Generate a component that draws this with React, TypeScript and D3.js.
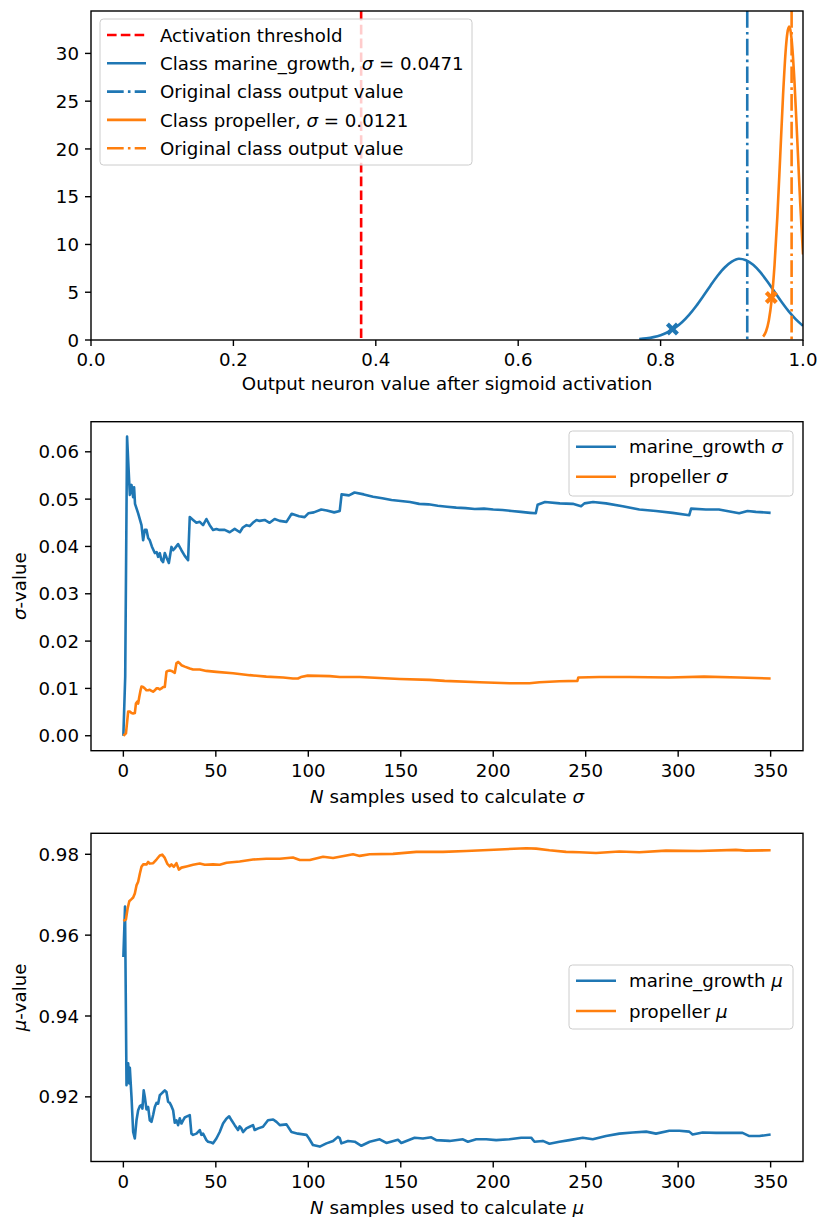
import React from 'react';
import * as d3 from 'd3';

const FONT = '"DejaVu Sans", sans-serif';
const FS = 18.2;
const BLUE = '#1f77b4';
const ORANGE = '#ff7f0e';
const RED = '#ff0000';

// ---------------- Top panel data ----------------
const thresholdValue = 0.3794;
const marineOriginal = 0.9217;
const propellerOriginal = 0.984;
const marineSigmaLabel = '0.0471';
const propellerSigmaLabel = '0.0121';
const marineDensityX = [0.77, 0.78, 0.79, 0.8, 0.81, 0.82, 0.83, 0.84, 0.85, 0.86, 0.87, 0.88, 0.89, 0.9, 0.91, 0.92, 0.93, 0.94, 0.95, 0.96, 0.97, 0.98, 0.99, 1.0];
const marineDensityY = [0.09, 0.17, 0.3, 0.5, 0.81, 1.26, 1.86, 2.63, 3.56, 4.61, 5.69, 6.72, 7.59, 8.2, 8.5, 8.35, 7.87, 7.1, 6.12, 5.04, 3.97, 2.99, 2.15, 1.48];
const propDensityX = [0.944, 0.948, 0.952, 0.956, 0.96, 0.964, 0.968, 0.972, 0.976, 0.978, 0.9805, 0.982, 0.984, 0.988, 0.992, 0.996, 1.0];
const propDensityY = [0.35, 0.89, 2.05, 4.22, 7.81, 12.94, 19.24, 25.63, 30.62, 32.11, 32.8, 32.56, 31.46, 27.07, 20.89, 14.44, 8.95];
const marineMarker = [0.8166, 1.15];
const propMarker = [0.9555, 4.45];
const topXTicks = [0, 0.2, 0.4, 0.6, 0.8, 1.0];
const topYTicks = [0, 5, 10, 15, 20, 25, 30];

// ---------------- Sigma panel data ----------------
const sigmaMarine: [number, number][] = [[0,0],[1,0.0125],[2,0.0632],[2.6,0.0582],[3.5,0.0509],[4.4,0.053],[5.3,0.0504],[5.8,0.0525],[6.3,0.049],[8,0.047],[9.8,0.0445],[10.7,0.0413],[11.6,0.0435],[12.5,0.0435],[13.4,0.0418],[14.3,0.0413],[15.4,0.04],[17,0.0386],[18,0.0388],[18.8,0.0378],[19.7,0.0386],[20.6,0.0371],[21.5,0.0367],[22.4,0.0386],[23.5,0.0375],[24.6,0.0365],[26,0.0399],[26.9,0.0392],[27.8,0.0396],[29.6,0.0405],[31.4,0.0392],[33.2,0.038],[35,0.0371],[35.9,0.0462],[37.7,0.0456],[39.5,0.045],[41.3,0.0452],[43.1,0.0445],[44.9,0.0458],[46.7,0.0445],[48.5,0.0435],[50.3,0.0437],[52,0.0435],[54.8,0.0435],[57.5,0.043],[60.2,0.0437],[63,0.043],[64.6,0.044],[66.6,0.0445],[68.3,0.0443],[70,0.045],[72,0.0456],[73.7,0.0454],[76.4,0.0456],[79.1,0.045],[81.8,0.0458],[84.5,0.0454],[88.2,0.0452],[91,0.0469],[95,0.0464],[98,0.0462],[100,0.047],[103,0.0472],[107,0.0478],[110,0.0476],[114,0.0472],[117,0.0475],[118,0.051],[122,0.0508],[125,0.0514],[130,0.051],[135,0.0505],[140,0.0502],[145,0.0498],[150,0.0496],[155,0.0494],[160,0.049],[165,0.0489],[170,0.0486],[175,0.0484],[180,0.0482],[185,0.0481],[190,0.0479],[195,0.048],[200,0.0478],[205,0.0477],[210,0.0475],[215,0.0473],[220,0.0471],[223,0.047],[224,0.0488],[228,0.0494],[236,0.0491],[243,0.049],[247.5,0.0485],[249.3,0.0491],[254,0.0494],[261,0.0491],[270,0.0485],[279,0.0478],[288,0.0475],[297,0.0471],[306,0.0466],[307,0.048],[315,0.0478],[322,0.0478],[333,0.047],[337.5,0.0475],[342,0.0473],[350,0.0471]];
const sigmaPropeller: [number, number][] = [[0,0],[1.4,0.0005],[2.6,0.0051],[3.5,0.0051],[4.4,0.0048],[5.3,0.0047],[6.2,0.0048],[6.8,0.0068],[7.5,0.0072],[8,0.0068],[8.6,0.0082],[9.3,0.0096],[9.8,0.0104],[10.7,0.0103],[11.6,0.01],[12.5,0.0096],[13.4,0.0096],[14.3,0.0097],[15.2,0.0095],[16.1,0.0093],[17,0.0096],[17.9,0.01],[18.8,0.01],[19.7,0.0098],[20.6,0.01],[21.5,0.0103],[22.4,0.0103],[23.3,0.0135],[23.9,0.0137],[25.1,0.0138],[26,0.0137],[26.9,0.0135],[27.8,0.0133],[28.7,0.0153],[29.6,0.0156],[30.5,0.0153],[31.4,0.0149],[33.2,0.0146],[35.9,0.0142],[37.7,0.014],[41.3,0.014],[44.9,0.0137],[50.3,0.0135],[59.3,0.0132],[68.3,0.0128],[77.3,0.0125],[86.4,0.0123],[91.7,0.0121],[94.4,0.0121],[96,0.0124],[99.7,0.0127],[111.6,0.0126],[117,0.0124],[127.8,0.0124],[138.6,0.0122],[149.4,0.012],[165.6,0.0118],[173.7,0.0116],[192.6,0.0113],[208.8,0.0111],[219.6,0.0111],[225,0.0113],[235.8,0.0115],[245.5,0.0116],[246,0.0123],[257.4,0.0124],[273.6,0.0124],[295.2,0.0123],[314,0.0125],[332.9,0.0123],[350,0.0121]];
const sigmaYTicks = [0, 0.01, 0.02, 0.03, 0.04, 0.05, 0.06];

// ---------------- Mu panel data ----------------
const muMarine: [number, number][] = [[0,0.9546],[0.9,0.9671],[1.7,0.9229],[2.6,0.9283],[3.2,0.9233],[3.5,0.9272],[4.4,0.92],[5.3,0.9113],[6.2,0.9097],[7.1,0.9142],[8,0.9167],[8.9,0.9177],[9.8,0.918],[10.3,0.9171],[11,0.9216],[11.6,0.92],[12.5,0.9169],[13.4,0.9175],[14.3,0.9142],[15.2,0.9138],[16.1,0.9155],[17,0.9175],[17.9,0.9185],[18.8,0.9183],[19.7,0.9204],[20.6,0.9208],[21.5,0.9212],[22.4,0.9216],[23.3,0.9212],[24.2,0.9188],[25.1,0.9185],[26,0.9177],[26.9,0.9167],[27.8,0.9136],[28.7,0.9142],[29.6,0.913],[30.5,0.9147],[31.4,0.9134],[32.3,0.9142],[33.2,0.9149],[34.1,0.9151],[35.9,0.9155],[36.8,0.9109],[37.7,0.9106],[39.5,0.9109],[41.3,0.9118],[42.2,0.9106],[43.1,0.9109],[44.9,0.9093],[45.8,0.9089],[47.6,0.9087],[48.5,0.9085],[50.3,0.9097],[52.1,0.9113],[53.9,0.9134],[55.7,0.9146],[57.2,0.9152],[58.5,0.9142],[60.2,0.913],[62,0.9118],[62.9,0.9127],[63.8,0.9122],[64.7,0.9113],[66.5,0.9122],[68.3,0.9126],[70.1,0.913],[71,0.9118],[72.9,0.9122],[75.5,0.9126],[78.2,0.9142],[81,0.9144],[82.8,0.9138],[84.6,0.913],[88.2,0.9132],[90.9,0.9113],[94.4,0.9109],[99,0.9106],[100.4,0.9097],[102.5,0.9081],[106.2,0.9077],[109.8,0.9085],[113.4,0.9091],[116,0.9101],[117,0.9098],[117.9,0.9085],[121.5,0.9091],[125.1,0.9089],[128.7,0.9079],[133.2,0.9089],[138.6,0.9095],[142.2,0.9086],[148.5,0.9094],[150.3,0.9086],[157.5,0.9099],[162,0.9097],[166.5,0.91],[169.2,0.9093],[176.4,0.9091],[183.6,0.9095],[186.3,0.9089],[190.8,0.9095],[196.2,0.9095],[201.6,0.9093],[208.8,0.9095],[215.1,0.9099],[220.5,0.9099],[222.3,0.9089],[226.8,0.9091],[230.4,0.9084],[235.8,0.9089],[241.2,0.9093],[248.4,0.9099],[253.8,0.9095],[261,0.9103],[268.2,0.9109],[275.4,0.9112],[282.7,0.9114],[288,0.9109],[295.2,0.9116],[300.6,0.9116],[306,0.9114],[307.8,0.9107],[313.2,0.9112],[320.5,0.9111],[325.9,0.9111],[334.8,0.9111],[338.5,0.9103],[343.9,0.9103],[350,0.9107]];
const muPropeller: [number, number][] = [[0,0.9635],[1.4,0.9639],[2.3,0.9666],[3.2,0.9684],[4.4,0.9689],[5.3,0.9693],[6.2,0.9703],[7.1,0.9723],[8,0.9732],[8.9,0.9752],[9.8,0.9769],[10.7,0.9775],[12.5,0.9775],[13.4,0.9781],[14.3,0.9777],[16.1,0.9778],[17.9,0.9787],[19.7,0.9797],[21,0.9799],[22.4,0.9791],[23.7,0.9777],[25.1,0.977],[26,0.9775],[27.3,0.9769],[28.7,0.9778],[30,0.9762],[31.4,0.9767],[34.1,0.977],[37.7,0.9774],[41.3,0.9777],[44,0.9774],[48.5,0.9775],[52.1,0.9774],[55.8,0.9779],[62.9,0.9782],[70.1,0.9787],[77.3,0.9789],[84.6,0.9789],[91.7,0.9792],[95.4,0.9786],[100.8,0.9786],[108,0.9794],[113.4,0.9791],[124.2,0.98],[127.8,0.9796],[133.2,0.98],[145.8,0.9801],[158.4,0.9806],[172.8,0.9806],[185.4,0.9808],[203.4,0.9812],[217.8,0.9815],[223.2,0.9814],[230.4,0.981],[239.4,0.9806],[246.6,0.9805],[255.6,0.9803],[268.2,0.9807],[279,0.9805],[293.4,0.9809],[311.4,0.9808],[331.2,0.9811],[336.6,0.9809],[350,0.981]];
const muYTicks = [0.92, 0.94, 0.96, 0.98];
const nTicks = [0, 50, 100, 150, 200, 250, 300, 350];

// ---------------- layout ----------------
const LEFT = 91;
const RIGHT = 803;
const TOP_BOX = { top: 11, bottom: 340 };
const MID_BOX = { top: 421.7, bottom: 750.7 };
const BOT_BOX = { top: 833.3, bottom: 1161.5 };
const LW = 2.6;
const FRAME_W = 1.4;

function padDomain(lo: number, hi: number): [number, number] {
  const p = (hi - lo) * 0.05;
  return [lo - p, hi + p];
}

function AxesFrame({ box, xScale, yScale, xTicks, yTicks, xFmt, yFmt }: any) {
  return (
    <g>
      <rect x={LEFT} y={box.top} width={RIGHT - LEFT} height={box.bottom - box.top} fill="none" stroke="#000" strokeWidth={FRAME_W} />
      {xTicks.map((t: number) => (
        <g key={'x' + t}>
          <line x1={xScale(t)} x2={xScale(t)} y1={box.bottom} y2={box.bottom + 6} stroke="#000" strokeWidth={FRAME_W} />
          <text x={xScale(t)} y={box.bottom + 26} textAnchor="middle" fontSize={FS} fontFamily={FONT} fill="#000">{xFmt(t)}</text>
        </g>
      ))}
      {yTicks.map((t: number) => (
        <g key={'y' + t}>
          <line x1={LEFT - 6} x2={LEFT} y1={yScale(t)} y2={yScale(t)} stroke="#000" strokeWidth={FRAME_W} />
          <text x={LEFT - 12} y={yScale(t) + 6.6} textAnchor="end" fontSize={FS} fontFamily={FONT} fill="#000">{yFmt(t)}</text>
        </g>
      ))}
    </g>
  );
}

function XMarker({ x, y, color }: { x: number; y: number; color: string }) {
  const s = 5;
  return (
    <g>
      <line x1={x - s} y1={y - s} x2={x + s} y2={y + s} stroke={color} strokeWidth={4.2} />
      <line x1={x - s} y1={y + s} x2={x + s} y2={y - s} stroke={color} strokeWidth={4.2} />
    </g>
  );
}

export default function App() {
  const xTop = d3.scaleLinear().domain([0, 1]).range([LEFT, RIGHT]);
  const yTopMax = (d3.max(propDensityY.concat(marineDensityY)) as number) * 1.05;
  const yTop = d3.scaleLinear().domain([0, yTopMax]).range([TOP_BOX.bottom, TOP_BOX.top]);
  const marinePath = d3.line<number>().curve(d3.curveMonotoneX).x((_, i) => xTop(marineDensityX[i])).y((d) => yTop(d))(marineDensityY) as string;
  const propPath = d3.line<number>().curve(d3.curveMonotoneX).x((_, i) => xTop(propDensityX[i])).y((d) => yTop(d))(propDensityY) as string;

  const xN = d3.scaleLinear().domain(padDomain(0, 350)).range([LEFT, RIGHT]);
  const sigAll = sigmaMarine.concat(sigmaPropeller).map((d) => d[1]);
  const ySig = d3.scaleLinear().domain(padDomain(d3.min(sigAll) as number, d3.max(sigAll) as number)).range([MID_BOX.bottom, MID_BOX.top]);
  const muAll = muMarine.concat(muPropeller).map((d) => d[1]);
  const yMu = d3.scaleLinear().domain(padDomain(d3.min(muAll) as number, d3.max(muAll) as number)).range([BOT_BOX.bottom, BOT_BOX.top]);
  const sigLine = d3.line<[number, number]>().x((d) => xN(d[0])).y((d) => ySig(d[1]));
  const muLine = d3.line<[number, number]>().x((d) => xN(d[0])).y((d) => yMu(d[1]));

  const fmt1 = d3.format('.1f');
  const fmt2 = d3.format('.2f');
  const fmt0 = d3.format('d');

  const legendText = { fontSize: FS, fontFamily: FONT, fill: '#000' } as any;
  const dashDot = '16.7,4.2,2.6,4.2';
  const dashed = '9.6,4.2';

  return (
    <svg width={819} height={1217} style={{ position: 'absolute', left: 0, top: 0, background: '#fff' }}>
      <defs>
        <clipPath id="clipTop"><rect x={LEFT} y={TOP_BOX.top} width={RIGHT - LEFT} height={TOP_BOX.bottom - TOP_BOX.top} /></clipPath>
        <clipPath id="clipMid"><rect x={LEFT} y={MID_BOX.top} width={RIGHT - LEFT} height={MID_BOX.bottom - MID_BOX.top} /></clipPath>
        <clipPath id="clipBot"><rect x={LEFT} y={BOT_BOX.top} width={RIGHT - LEFT} height={BOT_BOX.bottom - BOT_BOX.top} /></clipPath>
      </defs>
      <rect x={0} y={0} width={819} height={1217} fill="#fff" />

      {/* ================= TOP PANEL ================= */}
      <g clipPath="url(#clipTop)">
        <line x1={xTop(thresholdValue)} x2={xTop(thresholdValue)} y1={TOP_BOX.top} y2={TOP_BOX.bottom} stroke={RED} strokeWidth={LW} strokeDasharray={dashed} />
        <path d={marinePath} fill="none" stroke={BLUE} strokeWidth={LW} />
        <line x1={xTop(marineOriginal)} x2={xTop(marineOriginal)} y1={TOP_BOX.top} y2={TOP_BOX.bottom} stroke={BLUE} strokeWidth={LW} strokeDasharray={dashDot} />
        <path d={propPath} fill="none" stroke={ORANGE} strokeWidth={LW} />
        <line x1={xTop(propellerOriginal)} x2={xTop(propellerOriginal)} y1={TOP_BOX.top} y2={TOP_BOX.bottom} stroke={ORANGE} strokeWidth={LW} strokeDasharray={dashDot} />
        <XMarker x={xTop(marineMarker[0])} y={yTop(marineMarker[1])} color={BLUE} />
        <XMarker x={xTop(propMarker[0])} y={yTop(propMarker[1])} color={ORANGE} />
      </g>
      <AxesFrame box={TOP_BOX} xScale={xTop} yScale={yTop} xTicks={topXTicks} yTicks={topYTicks} xFmt={fmt1} yFmt={fmt0} />
      <text x={(LEFT + RIGHT) / 2} y={TOP_BOX.bottom + 50} textAnchor="middle" fontSize={FS} fontFamily={FONT}>Output neuron value after sigmoid activation</text>
      <g>
        <rect x={100} y={19} width={372} height={146} rx={3.5} fill="#fff" fillOpacity={0.8} stroke="#cccccc" strokeWidth={1} />
        {[
          { c: RED, dash: dashed, label: <>Activation threshold</> },
          { c: BLUE, dash: '', label: <>Class marine_growth, <tspan fontStyle="italic">σ</tspan> = {marineSigmaLabel}</> },
          { c: BLUE, dash: dashDot, label: <>Original class output value</> },
          { c: ORANGE, dash: '', label: <>Class propeller, <tspan fontStyle="italic">σ</tspan> = {propellerSigmaLabel}</> },
          { c: ORANGE, dash: dashDot, label: <>Original class output value</> },
        ].map((e, i) => {
          const yy = 35 + i * 28.3;
          return (
            <g key={i}>
              <line x1={107} x2={146} y1={yy} y2={yy} stroke={e.c} strokeWidth={LW} strokeDasharray={e.dash || undefined} />
              <text x={160} y={yy + 6.6} {...legendText} xmlSpace="preserve">{e.label}</text>
            </g>
          );
        })}
      </g>

      {/* ================= SIGMA PANEL ================= */}
      <g clipPath="url(#clipMid)">
        <path d={sigLine(sigmaMarine) as string} fill="none" stroke={BLUE} strokeWidth={LW} strokeLinejoin="round" />
        <path d={sigLine(sigmaPropeller) as string} fill="none" stroke={ORANGE} strokeWidth={LW} strokeLinejoin="round" />
      </g>
      <AxesFrame box={MID_BOX} xScale={xN} yScale={ySig} xTicks={nTicks} yTicks={sigmaYTicks} xFmt={fmt0} yFmt={fmt2} />
      <text x={(LEFT + RIGHT) / 2} y={MID_BOX.bottom + 52} textAnchor="middle" fontSize={FS} fontFamily={FONT}>
        <tspan fontStyle="italic">N</tspan> samples used to calculate <tspan fontStyle="italic">σ</tspan>
      </text>
      <text transform={`translate(26,${(MID_BOX.top + MID_BOX.bottom) / 2}) rotate(-90)`} textAnchor="middle" fontSize={FS} fontFamily={FONT}>
        <tspan fontStyle="italic">σ</tspan>-value
      </text>
      <g>
        <rect x={569} y={431} width={224} height={65} rx={3.5} fill="#fff" fillOpacity={0.8} stroke="#cccccc" strokeWidth={1} />
        <line x1={576} x2={616} y1={446.7} y2={446.7} stroke={BLUE} strokeWidth={LW} />
        <text x={629} y={453.3} {...legendText}>marine_growth <tspan fontStyle="italic">σ</tspan></text>
        <line x1={576} x2={616} y1={476.7} y2={476.7} stroke={ORANGE} strokeWidth={LW} />
        <text x={629} y={483.3} {...legendText}>propeller <tspan fontStyle="italic">σ</tspan></text>
      </g>

      {/* ================= MU PANEL ================= */}
      <g clipPath="url(#clipBot)">
        <path d={muLine(muMarine) as string} fill="none" stroke={BLUE} strokeWidth={LW} strokeLinejoin="round" />
        <path d={muLine(muPropeller) as string} fill="none" stroke={ORANGE} strokeWidth={LW} strokeLinejoin="round" />
      </g>
      <AxesFrame box={BOT_BOX} xScale={xN} yScale={yMu} xTicks={nTicks} yTicks={muYTicks} xFmt={fmt0} yFmt={fmt2} />
      <text x={(LEFT + RIGHT) / 2} y={BOT_BOX.bottom + 52} textAnchor="middle" fontSize={FS} fontFamily={FONT}>
        <tspan fontStyle="italic">N</tspan> samples used to calculate <tspan fontStyle="italic">μ</tspan>
      </text>
      <text transform={`translate(26,${(BOT_BOX.top + BOT_BOX.bottom) / 2}) rotate(-90)`} textAnchor="middle" fontSize={FS} fontFamily={FONT}>
        <tspan fontStyle="italic">μ</tspan>-value
      </text>
      <g>
        <rect x={569} y={965} width={224} height={64} rx={3.5} fill="#fff" fillOpacity={0.8} stroke="#cccccc" strokeWidth={1} />
        <line x1={576} x2={616} y1={980.7} y2={980.7} stroke={BLUE} strokeWidth={LW} />
        <text x={629} y={987.3} {...legendText}>marine_growth <tspan fontStyle="italic">μ</tspan></text>
        <line x1={576} x2={616} y1={1011} y2={1011} stroke={ORANGE} strokeWidth={LW} />
        <text x={629} y={1017.6} {...legendText}>propeller <tspan fontStyle="italic">μ</tspan></text>
      </g>
    </svg>
  );
}
